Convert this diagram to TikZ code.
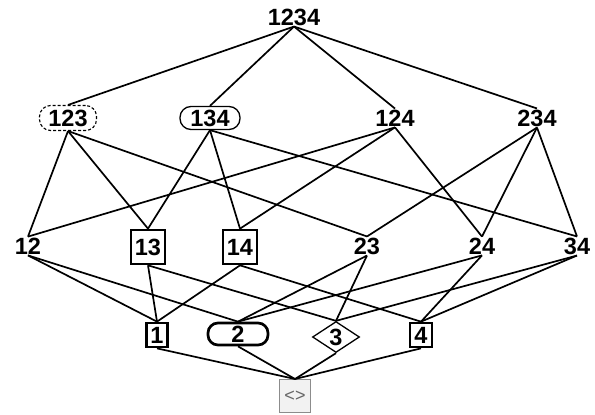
\documentclass[tikz,border=0pt]{standalone}
\usepackage{fontspec}
\setmainfont{Liberation Sans}
\usetikzlibrary{shapes.geometric}
\begin{document}
\begin{tikzpicture}[x=1pt,y=-1pt,
  lbl/.style={font=\bfseries\fontsize{23.5}{23.5}\selectfont, inner sep=1pt},
  thickbox/.style={lbl, draw, line width=2.7pt},
  edge/.style={line width=1.7pt}]
\useasboundingbox (0,0) rectangle (595,415);

% top element
\node[lbl] (n1234) at (294,17) {1234};

% three-element subsets
\node[lbl, draw, dash pattern=on 3pt off 2pt, rounded corners=11pt, line width=1.1pt,
      minimum width=57pt, minimum height=25pt] (n123) at (68,118) {123};
\node[lbl, draw, rounded corners=11pt, line width=1.3pt,
      minimum width=60pt, minimum height=23pt] (n134) at (210,118) {134};
\node[lbl] (n124) at (395,118) {124};
\node[lbl] (n234) at (537,118) {234};

% two-element subsets
\node[lbl] (n12) at (28,246) {12};
\node[thickbox, minimum size=34pt] (n13) at (148,247) {13};
\node[thickbox, minimum size=34pt] (n14) at (240,247) {14};
\node[lbl] (n23) at (367,246) {23};
\node[lbl] (n24) at (482,246) {24};
\node[lbl] (n34) at (577,246) {34};

% singletons
\node[thickbox, minimum width=21pt, minimum height=24pt] (n1) at (157,335) {1};
\node[thickbox, rounded corners=10pt, minimum width=60pt, minimum height=22pt] (n2) at (238,334) {2};
\node[lbl, draw, diamond, line width=1.3pt, inner sep=0pt,
      minimum width=47pt, minimum height=31pt] (n3) at (336,337) {3};
\node[thickbox, minimum width=22pt, minimum height=24pt] (n4) at (421,335) {4};

% empty set
\node[draw=black!45, fill=black!5, line width=1pt, minimum width=31pt, minimum height=33pt,
      text=black!60, font=\fontsize{18}{18}\selectfont] (n0) at (295,396) {<>};

% covering relations
\foreach \a/\b in {1234/123, 1234/134, 1234/124, 1234/234,
                   123/12, 123/13, 123/23,
                   134/13, 134/14, 134/34,
                   124/12, 124/14, 124/24,
                   234/23, 234/24, 234/34,
                   12/1, 12/2, 13/1, 13/3, 14/1, 14/4,
                   23/2, 23/3, 24/2, 24/4, 34/3, 34/4,
                   1/0, 2/0, 3/0, 4/0}
  \draw[edge] (n\a.south) -- (n\b.north);
\end{tikzpicture}
\end{document}
